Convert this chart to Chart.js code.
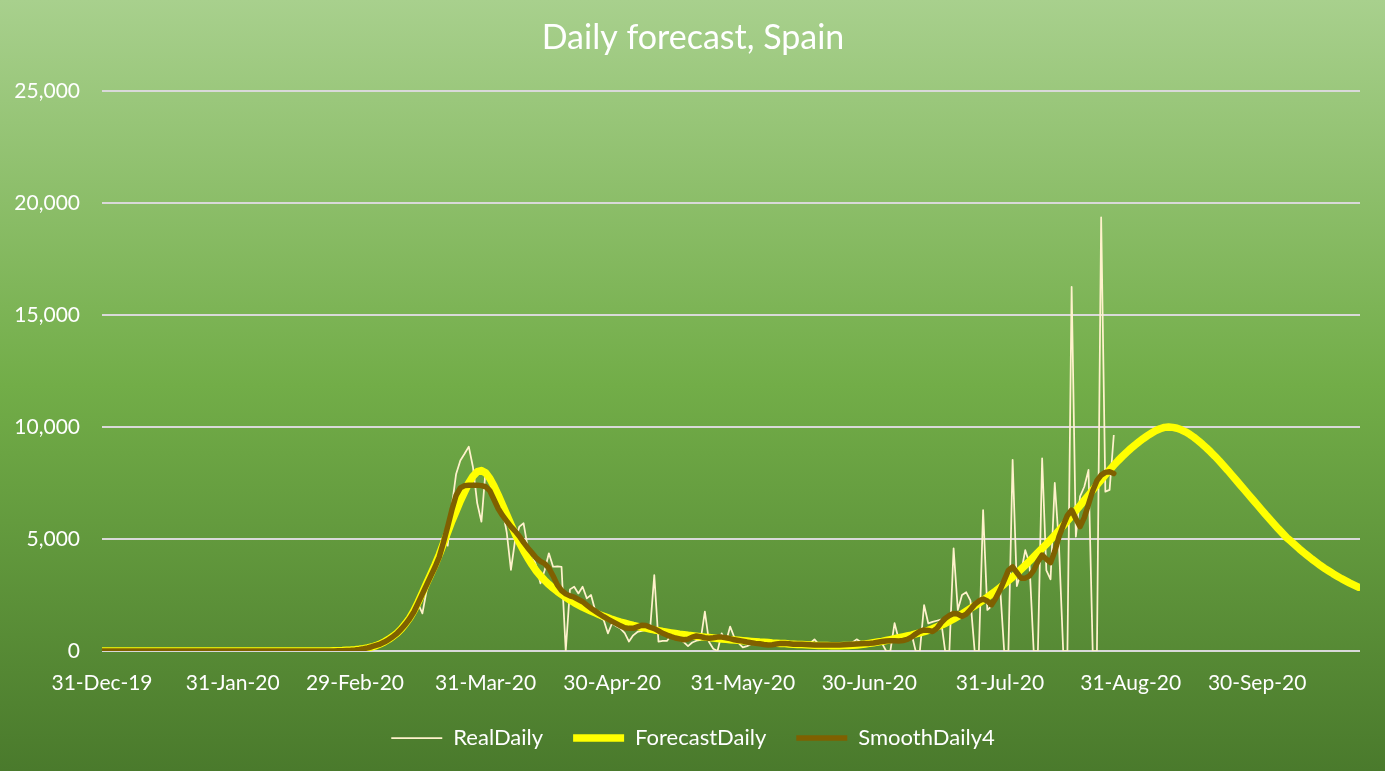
<!DOCTYPE html>
<html>
<head>
<meta charset="utf-8">
<title>Daily forecast, Spain</title>
<script src="https://cdn.jsdelivr.net/npm/chart.js@4.4.0/dist/chart.umd.min.js"></script>
<style>
  html, body { margin: 0; padding: 0; }
  #wrap {
    width: 1385px;
    height: 771px;
    background: linear-gradient(180deg, #a8d08d 0%, #72ad48 50%, #4a7a2c 100%);
  }
</style>
</head>
<body>
<div id="wrap"><canvas id="myChart" width="1385" height="771"></canvas></div>
<script>
// day 0 = 31-Dec-19
var tickDays = [0, 31, 60, 91, 121, 152, 182, 213, 244, 274];
var tickLabels = ['31-Dec-19', '31-Jan-20', '29-Feb-20', '31-Mar-20', '30-Apr-20',
                  '31-May-20', '30-Jun-20', '31-Jul-20', '31-Aug-20', '30-Sep-20'];

var realDaily = [
  0,0,0,0,0,0,0,0,0,0,
  0,0,0,0,0,0,0,0,0,0,
  0,0,0,0,0,0,0,0,0,0,
  0,0,0,0,0,0,0,0,0,0,
  0,0,0,0,0,0,0,0,0,0,
  0,0,0,0,0,0,5,10,15,25,
  35,50,70,110,150,230,300,420,500,650,
  800,950,1250,1500,1900,2100,1680,2700,3400,3800,
  4600,5000,4700,6500,7900,8500,8800,9120,8200,6600,
  5770,8080,7710,7550,7200,6300,5300,3620,4960,5550,
  5700,4600,4300,3800,3020,3600,4360,3760,3780,3760,
  0,2750,2870,2570,2870,2350,2500,1800,1500,1380,
  790,1240,1100,1000,800,420,700,850,900,940,
  940,3390,420,450,450,700,600,500,400,220,
  380,460,500,1760,400,100,0,790,400,1090,
  600,350,160,220,300,350,300,250,300,330,
  280,320,360,300,250,200,280,330,350,520,
  300,250,220,260,280,300,330,350,380,520,
  400,300,350,380,420,350,0,0,1240,500,
  430,650,790,0,0,2050,1230,1300,1350,1400,
  0,0,4580,1830,2500,2620,2250,0,0,6290,
  1830,2000,2800,2950,0,0,8530,2900,3500,4500,
  3900,0,0,8600,3600,3200,7500,4700,0,0,
  16250,5100,6900,7330,8080,0,0,19350,7110,7190,
  9640
];

var forecastDaily = [
  0,0,0,0,0,0,0,0,0,0,
  0,0,0,0,0,0,0,0,0,0,
  0,0,0,0,0,0,0,0,0,0,
  0,0,0,0,0,0,0,0,0,0,
  0,0,0,0,0,0,0,0,0,0,
  0,0,0,0,0,10,15,20,30,40,
  55,75,100,135,180,240,320,410,520,650,
  800,990,1220,1480,1800,2180,2600,3020,3430,3850,
  4300,4800,5300,5800,6250,6700,7100,7500,7800,8000,
  8050,7950,7700,7350,6950,6520,6080,5650,5230,4840,
  4480,4150,3850,3580,3350,3150,2970,2810,2660,2520,
  2390,2270,2160,2060,1960,1870,1780,1700,1620,1550,
  1480,1410,1350,1290,1240,1190,1140,1100,1060,1020,
  980,940,910,870,840,810,780,750,730,700,
  680,660,640,620,600,580,560,540,520,505,
  490,475,460,445,430,415,400,390,375,360,
  350,340,330,315,305,295,285,275,265,255,
  250,245,240,235,235,235,240,245,255,270,
  290,310,340,370,400,430,470,510,550,590,
  630,670,710,760,810,860,920,990,1070,1150,
  1230,1330,1430,1540,1660,1780,1900,2020,2140,2270,
  2400,2540,2680,2830,2980,3140,3300,3470,3650,3830,
  4010,4200,4390,4580,4770,4970,5170,5380,5590,5810,
  6030,6260,6490,6720,6950,7180,7410,7640,7860,8080,
  8290,8490,8680,8860,9030,9190,9340,9480,9610,9730,
  9840,9920,9980,10000,9980,9940,9870,9780,9670,9540,
  9390,9230,9060,8880,8690,8490,8280,8070,7850,7630,
  7410,7190,6970,6750,6530,6310,6090,5880,5670,5460,
  5260,5060,4900,4730,4560,4400,4250,4100,3960,3820,
  3690,3570,3450,3340,3230,3130,3030,2940,2850
];

var smoothDaily4 = [
  0,0,0,0,0,0,0,0,0,0,
  0,0,0,0,0,0,0,0,0,0,
  0,0,0,0,0,0,0,0,0,0,
  0,0,0,0,0,0,0,0,0,0,
  0,0,0,0,0,0,0,0,0,0,
  0,0,0,0,0,5,10,15,25,35,
  50,70,100,140,190,250,310,400,510,640,
  790,980,1200,1450,1750,2150,2550,2950,3350,3750,
  4200,4850,5550,6300,6950,7280,7380,7400,7400,7400,
  7380,7330,7150,6750,6350,6050,5800,5550,5350,5120,
  4850,4600,4380,4150,4000,3900,3700,3350,2950,2700,
  2550,2460,2400,2300,2200,2050,1900,1780,1650,1530,
  1420,1320,1220,1120,1040,1010,1010,1080,1150,1140,
  1060,1000,900,790,710,640,580,540,500,530,
  620,670,640,590,570,590,620,620,590,550,
  500,470,440,400,370,340,320,290,270,280,
  310,340,340,320,300,300,300,290,280,270,
  270,270,270,270,270,270,280,290,300,310,
  320,330,340,360,390,420,450,460,460,450,
  470,520,620,760,880,940,920,870,1000,1250,
  1450,1580,1670,1650,1540,1650,1850,2080,2230,2320,
  2230,2060,2350,2720,3150,3600,3750,3500,3250,3250,
  3350,3600,4000,4280,4100,3950,4450,5100,5600,6050,
  6290,5900,5550,5950,6550,7150,7600,7850,7970,8000,
  7920
];

function toPoints(arr) {
  return arr.map(function (v, i) { return { x: i, y: v }; });
}

var fontName = 'Lato';

// let the y labels use the room left of the axis box (layout padding)
var yLabelRoom = {
  id: 'yLabelRoom',
  afterLayout: function (chart) {
    chart.scales.y.left = 0;
  }
};

var ctx = document.getElementById('myChart');

var myChart = new Chart(ctx, {
  type: 'line',
  data: {
    datasets: [
      {
        label: 'RealDaily',
        data: toPoints(realDaily),
        borderColor: '#fff2cc',
        backgroundColor: '#fff2cc',
        borderWidth: 1.75,
        borderJoinStyle: 'round',
        pointRadius: 0,
        tension: 0,
        order: 3
      },
      {
        label: 'ForecastDaily',
        data: toPoints(forecastDaily),
        borderColor: '#ffff00',
        backgroundColor: '#ffff00',
        borderWidth: 7.5,
        borderCapStyle: 'round',
        borderJoinStyle: 'round',
        pointRadius: 0,
        tension: 0,
        order: 2
      },
      {
        label: 'SmoothDaily4',
        data: toPoints(smoothDaily4),
        borderColor: '#7f6000',
        backgroundColor: '#7f6000',
        borderWidth: 5.5,
        borderCapStyle: 'round',
        borderJoinStyle: 'round',
        pointRadius: 0,
        tension: 0,
        order: 1
      }
    ]
  },
  plugins: [yLabelRoom],
  options: {
    responsive: false,
    animation: false,
    devicePixelRatio: 1,
    layout: { padding: { left: 26, right: 25, top: 0, bottom: 12 } },
    plugins: {
      title: {
        display: true,
        text: 'Daily forecast, Spain',
        color: '#ffffff',
        font: { family: fontName, size: 34, weight: 'normal' },
        padding: { top: 18, bottom: 32 }
      },
      legend: {
        position: 'bottom',
        labels: {
          color: '#ffffff',
          font: { family: fontName, size: 22 },
          usePointStyle: true,
          pointStyle: 'line',
          pointStyleWidth: 51,
          padding: 30,
          sort: function (a, b) { return a.datasetIndex - b.datasetIndex; }
        }
      },
      tooltip: { enabled: false }
    },
    scales: {
      x: {
        type: 'linear',
        min: 0,
        max: 298.4,
        grid: { display: false },
        border: { display: false },
        afterBuildTicks: function (scale) {
          scale.ticks = tickDays.map(function (d) { return { value: d }; });
        },
        afterFit: function (scale) { scale.height = 46; },
        ticks: {
          autoSkip: false,
          maxRotation: 0,
          padding: 12,
          color: '#ffffff',
          font: { family: fontName, size: 21 },
          callback: function (value) {
            var k = tickDays.indexOf(value);
            return k >= 0 ? tickLabels[k] : '';
          }
        }
      },
      y: {
        min: 0,
        max: 25000,
        border: { display: false },
        grid: { color: '#d9d9d9', lineWidth: 2, drawTicks: false },
        afterFit: function (scale) { scale.width = 76; },
        ticks: {
          stepSize: 5000,
          padding: 22,
          color: '#ffffff',
          font: { family: fontName, size: 21 },
          callback: function (value) { return value.toLocaleString('en-US'); }
        }
      }
    }
  }
});
</script>
</body>
</html>
